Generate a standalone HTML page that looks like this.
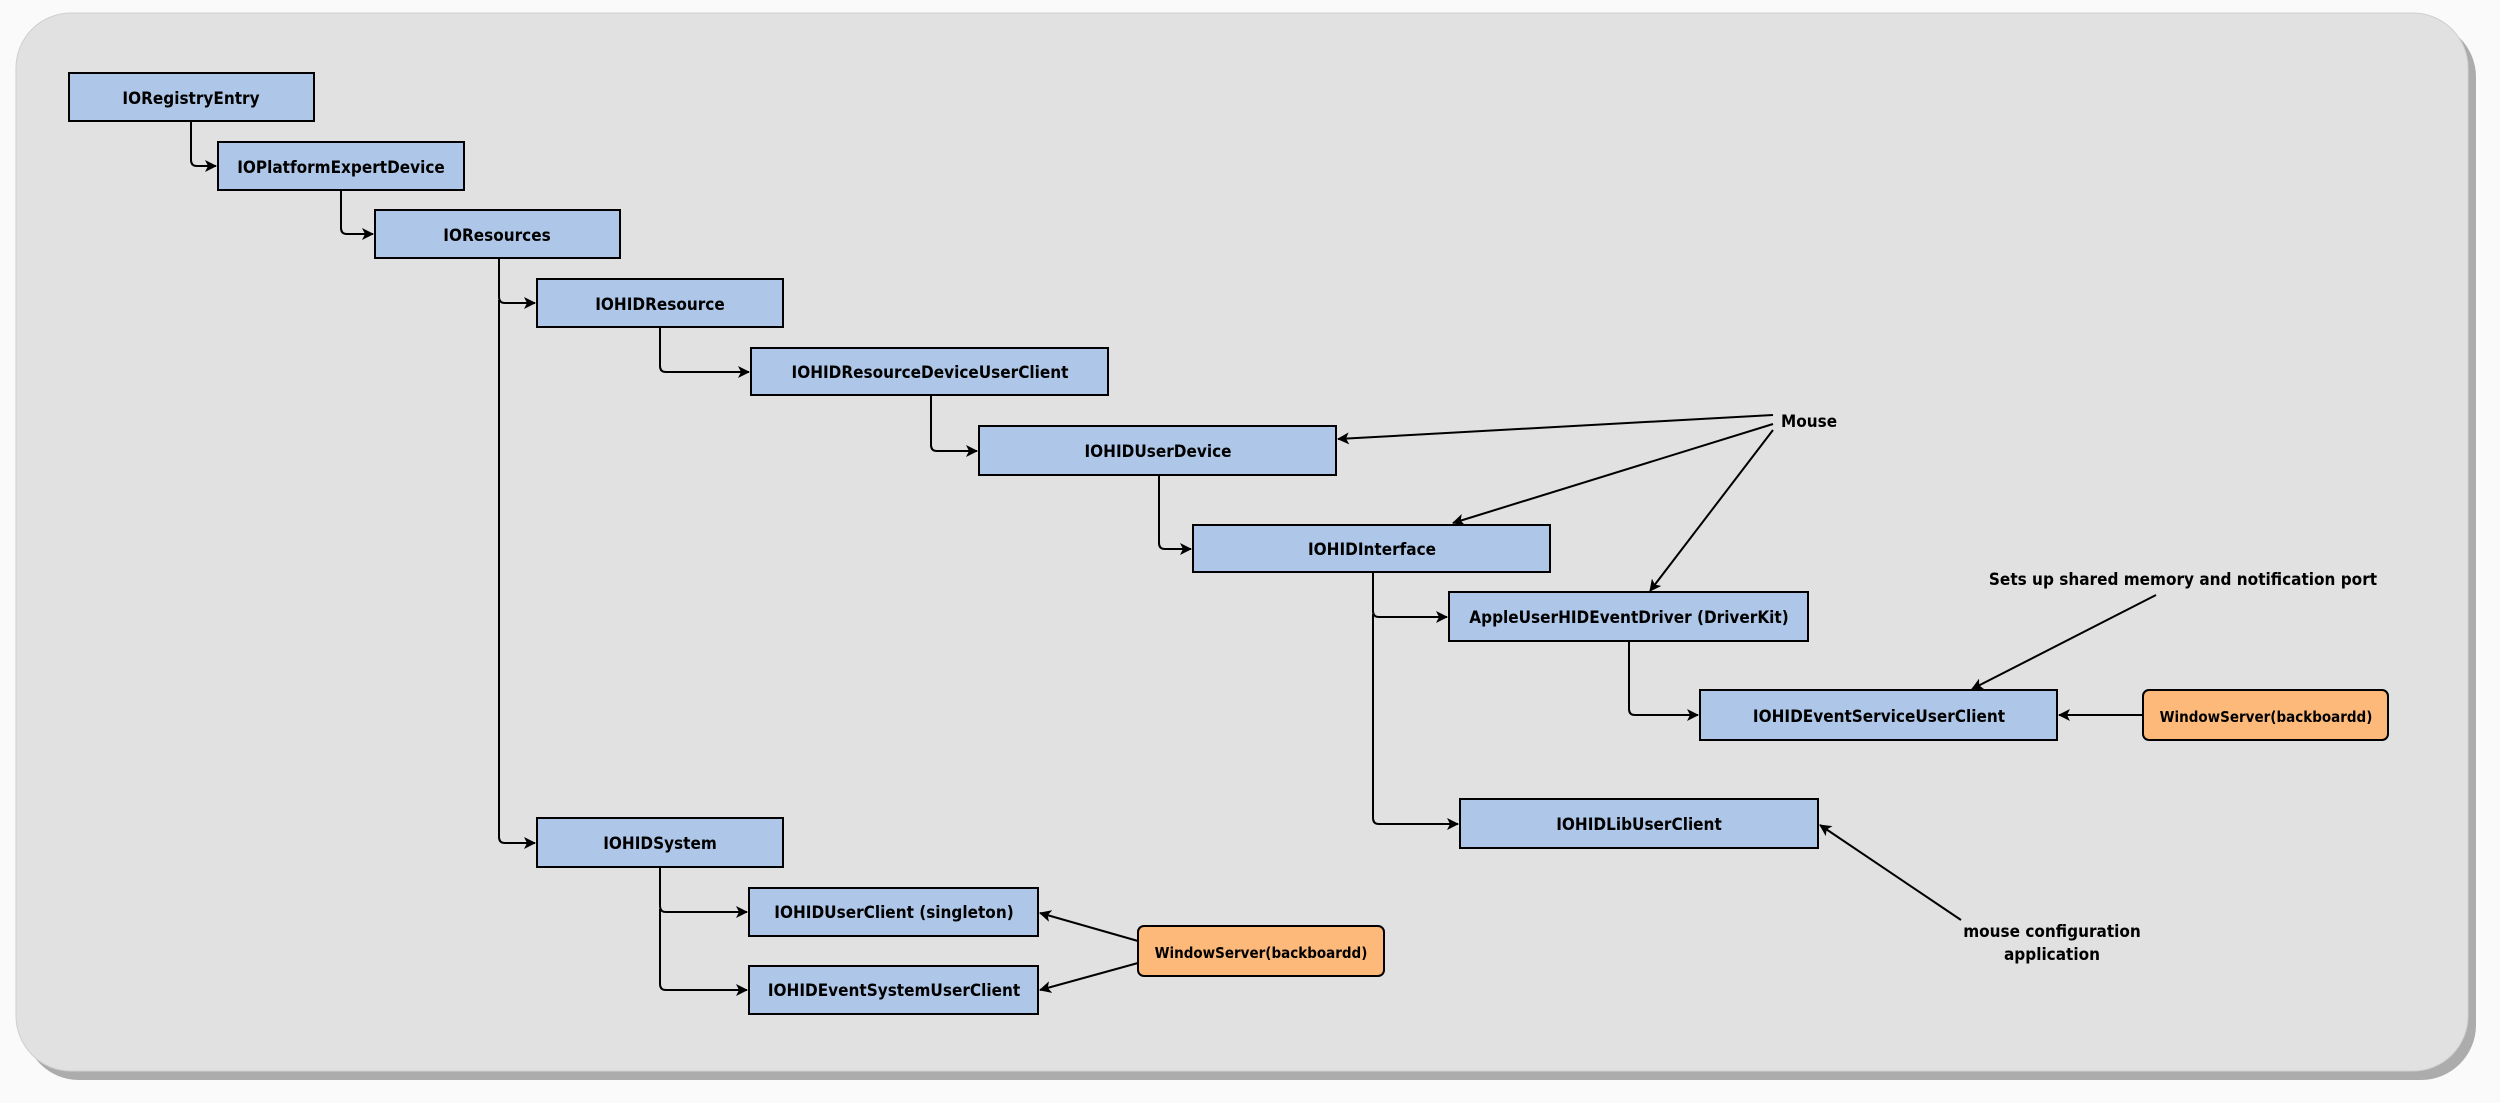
<!DOCTYPE html>
<html><head><meta charset="utf-8"><style>
html,body{margin:0;padding:0;background:#fafafa;}
svg{display:block;}
text{font-family:"DejaVu Sans Condensed","Liberation Sans",sans-serif;font-weight:bold;font-size:17px;fill:#000;}
</style></head><body>
<svg width="2500" height="1103" viewBox="0 0 2500 1103" xmlns="http://www.w3.org/2000/svg">
<defs>
<marker id="a" viewBox="0 0 12 12" refX="11" refY="6" markerWidth="12" markerHeight="12" markerUnits="userSpaceOnUse" orient="auto">
<path d="M0,0 L12,6 L0,12 L3,6 Z" fill="#000"/>
</marker>
</defs>
<rect x="24" y="22" width="2452" height="1058" rx="55" fill="#8a8a8a" opacity="0.7"/>
<rect x="16" y="13" width="2452" height="1058" rx="55" fill="#e1e1e1" stroke="#cfcfcf" stroke-width="1"/>
<g fill="none" stroke="#000" stroke-width="2">
<path d="M191,121 V160 Q191,166 197,166 H216" marker-end="url(#a)"/>
<path d="M341,190 V228 Q341,234 347,234 H373" marker-end="url(#a)"/>
<path d="M499,258 V297 Q499,303 505,303 H535" marker-end="url(#a)"/>
<path d="M499,300 V837 Q499,843 505,843 H535" marker-end="url(#a)"/>
<path d="M660,327 V366 Q660,372 666,372 H749" marker-end="url(#a)"/>
<path d="M931,395 V445 Q931,451 937,451 H977" marker-end="url(#a)"/>
<path d="M1159,475 V543 Q1159,549 1165,549 H1191" marker-end="url(#a)"/>
<path d="M1373,572 V611 Q1373,617 1379,617 H1447" marker-end="url(#a)"/>
<path d="M1373,614 V818 Q1373,824 1379,824 H1458" marker-end="url(#a)"/>
<path d="M1629,641 V709 Q1629,715 1635,715 H1698" marker-end="url(#a)"/>
<path d="M660,867 V906 Q660,912 666,912 H747" marker-end="url(#a)"/>
<path d="M660,909 V984 Q660,990 666,990 H747" marker-end="url(#a)"/>
<path d="M1773,415 L1338,439" marker-end="url(#a)"/>
<path d="M1773,424 L1453,523" marker-end="url(#a)"/>
<path d="M1773,430 L1650,591" marker-end="url(#a)"/>
<path d="M2156,595 L1972,689" marker-end="url(#a)"/>
<path d="M2143,715 L2059,715" marker-end="url(#a)"/>
<path d="M1961,920 L1820,825" marker-end="url(#a)"/>
<path d="M1138,941 L1040,913" marker-end="url(#a)"/>
<path d="M1138,963 L1040,990" marker-end="url(#a)"/>
</g>
<g stroke="#000" stroke-width="2" fill="#aec7e8">
<rect x="69" y="73" width="245" height="48"/>
<rect x="218" y="142" width="246" height="48"/>
<rect x="375" y="210" width="245" height="48"/>
<rect x="537" y="279" width="246" height="48"/>
<rect x="751" y="348" width="357" height="47"/>
<rect x="979" y="426" width="357" height="49"/>
<rect x="1193" y="525" width="357" height="47"/>
<rect x="1449" y="592" width="359" height="49"/>
<rect x="1700" y="690" width="357" height="50"/>
<rect x="1460" y="799" width="358" height="49"/>
<rect x="537" y="818" width="246" height="49"/>
<rect x="749" y="888" width="289" height="48"/>
<rect x="749" y="966" width="289" height="48"/>
</g>
<g stroke="#000" stroke-width="2" fill="#fdb97a">
<rect x="2143" y="690" width="245" height="50" rx="6"/>
<rect x="1138" y="926" width="246" height="50" rx="6"/>
</g>
<g text-anchor="middle">
<text x="191" y="104">IORegistryEntry</text>
<text x="341" y="173">IOPlatformExpertDevice</text>
<text x="497" y="241">IOResources</text>
<text x="660" y="310">IOHIDResource</text>
<text x="930" y="378">IOHIDResourceDeviceUserClient</text>
<text x="1158" y="457">IOHIDUserDevice</text>
<text x="1372" y="555">IOHIDInterface</text>
<text x="1629" y="623">AppleUserHIDEventDriver (DriverKit)</text>
<text x="1879" y="722">IOHIDEventServiceUserClient</text>
<text x="1639" y="830">IOHIDLibUserClient</text>
<text x="660" y="849">IOHIDSystem</text>
<text x="894" y="918">IOHIDUserClient (singleton)</text>
<text x="894" y="996">IOHIDEventSystemUserClient</text>
<text x="2266" y="722" style="font-size:15px">WindowServer(backboardd)</text>
<text x="1261" y="958" style="font-size:15px">WindowServer(backboardd)</text>
<text x="2183" y="585">Sets up shared memory and notification port</text>
<text x="2052" y="937">mouse configuration</text>
<text x="2052" y="960">application</text>
</g>
<text x="1781" y="427">Mouse</text>
</svg>
</body></html>
